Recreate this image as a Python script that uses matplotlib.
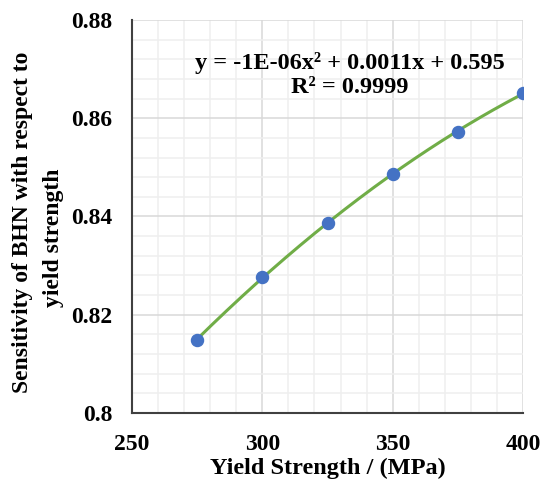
import numpy as np
from matplotlib import pyplot as plt
from matplotlib.ticker import MultipleLocator

# Data
yield_strength = [275, 300, 325, 350, 375, 400]
sensitivity = [0.8149, 0.8277, 0.8387, 0.8486, 0.8573, 0.8651]

x_ticks = [250, 300, 350, 400]
y_ticks = [0.80, 0.82, 0.84, 0.86, 0.88]
y_tick_labels = ['0.8', '0.82', '0.84', '0.86', '0.88']

equation = 'y = -1E-06x² + 0.0011x + 0.595\nR² = 0.9999'

plt.rcParams['font.family'] = ['Liberation Serif', 'DejaVu Serif']
plt.rcParams['font.weight'] = 'bold'

fig = plt.figure(figsize=(5.42, 4.84), dpi=100)
ax = fig.add_axes([0.2435, 0.1467, 0.7215, 0.812])

# Quadratic trendline fitted to the points
coef = np.polyfit(yield_strength, sensitivity, 2)
xs = np.linspace(min(yield_strength), max(yield_strength), 200)
ax.plot(xs, np.polyval(coef, xs), color='#70AD47', lw=2.2, zorder=3)
ax.scatter(yield_strength, sensitivity, s=75, color='#4472C4', zorder=4)

ax.set_xlim(250, 400)
ax.set_ylim(0.80, 0.88)
ax.set_xticks(x_ticks)
ax.set_yticks(y_ticks)
ax.set_yticklabels(y_tick_labels)
ax.xaxis.set_minor_locator(MultipleLocator(10))
ax.yaxis.set_minor_locator(MultipleLocator(0.004))
ax.grid(which='major', color='#D9D9D9', lw=1.1)
ax.grid(which='minor', color='#EFEFEF', lw=1.1)
ax.set_axisbelow(True)
ax.tick_params(which='both', length=0, labelsize=17)
ax.tick_params(axis='x', pad=15)
ax.tick_params(axis='y', pad=14)

for side in ['top', 'right']:
    ax.spines[side].set_visible(False)
for side in ['left', 'bottom']:
    ax.spines[side].set_color('#404040')
    ax.spines[side].set_linewidth(1.5)

ax.set_xlabel('Yield Strength / (MPa)', fontsize=17.5, fontweight='bold', labelpad=2)

# y title wraps onto two lines, second line sits a bit lower in the reference
fig.text(0.0406, 0.5413, 'Sensitivity of BHN with respect to', rotation=90,
         ha='center', va='center', fontsize=17, fontweight='bold')
fig.text(0.0978, 0.5083, 'yield strength', rotation=90,
         ha='center', va='center', fontsize=17, fontweight='bold')

ax.text(333.5, 0.8688, equation, ha='center', va='center', fontsize=17.5,
        fontweight='bold', linespacing=1.15)

fig.savefig('out.png', dpi=100)
